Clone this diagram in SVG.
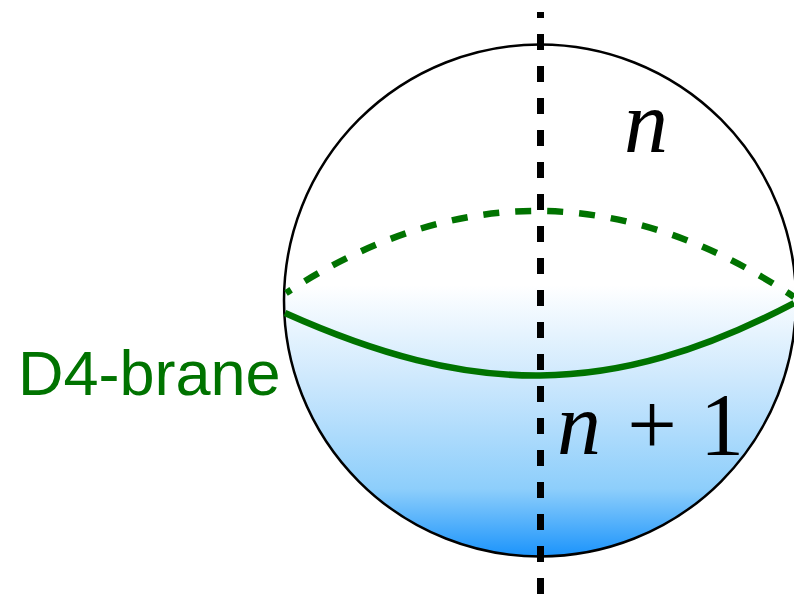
<svg xmlns="http://www.w3.org/2000/svg" width="794" height="595" viewBox="0 0 794 595">
<style>
.brane{fill:none;stroke:#007300;stroke-width:6.5}
.axis{fill:none;stroke:#000;stroke-width:7;stroke-dasharray:16 16}
.lbl{font-family:"Liberation Serif","Times New Roman",serif;font-size:88px;fill:#000}
</style>
<defs>
<linearGradient id="fillGrad" gradientUnits="userSpaceOnUse" x1="0" y1="285" x2="0" y2="557">
<stop offset="0" stop-color="#ffffff"/>
<stop offset="0.35" stop-color="#cde8fd"/>
<stop offset="0.75" stop-color="#8dcefb"/>
<stop offset="1" stop-color="#1a93fb"/>
</linearGradient>
</defs>
<rect width="794" height="595" fill="#fff"/>
<g id="sphere">
<circle cx="540" cy="300.5" r="256" fill="url(#fillGrad)" stroke="#000" stroke-width="2.5"/>
</g>
<g id="d4brane">
<path class="brane" d="M285 313 C470 396 610 400 794 303"/>
<path class="brane" d="M286 293 Q540 127 794 297" stroke-dasharray="16 16" stroke-dashoffset="10"/>
<text x="18" y="395" font-family="'Liberation Sans',Arial,sans-serif" font-size="63" fill="#007300">D4-brane</text>
</g>
<g id="connectors">
<line class="axis" x1="540.5" y1="12" x2="540.5" y2="595" stroke-dashoffset="10"/>
</g>
<g id="labels">
<text class="lbl" x="624" y="152" font-style="italic">n</text>
<text class="lbl" y="454"><tspan x="557" font-style="italic">n</tspan><tspan x="652" text-anchor="middle">+</tspan><tspan x="722" text-anchor="middle">1</tspan></text>
</g>
</svg>
